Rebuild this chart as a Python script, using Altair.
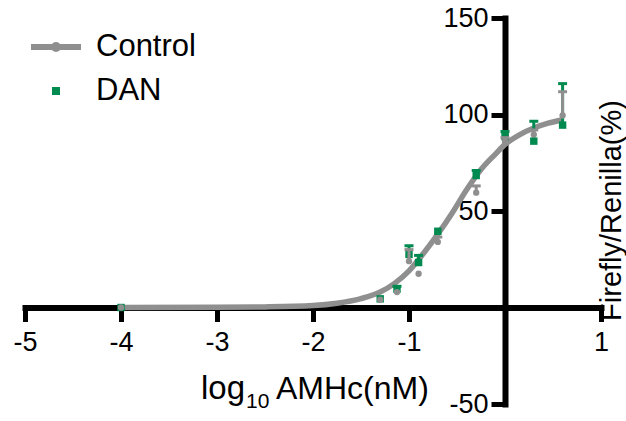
import altair as alt
import pandas as pd

# ---- data ----
x_log = [-4.0, -1.3, -1.125, -1.0, -0.9, -0.7, -0.3, 0.0, 0.3, 0.6]
control_mean = [0.0, 4.0, 8.0, 24.0, 17.5, 34.0, 59.5, 86.0, 89.6, 99.5]
control_top = [None, None, None, 30.0, None, 36.5, 63.0, 88.0, 92.0, 111.8]
dan_mean = [0.0, 4.5, 9.5, 27.5, 23.3, 39.5, 68.4, 88.6, 86.2, 94.5]
dan_top = [None, None, 11.0, 32.0, 27.0, None, 71.0, 91.2, 96.5, 116.0]

curve_x = [-4.0, -3.0, -2.5, -2.0, -1.75, -1.5, -1.3, -1.15, -1.0, -0.85, -0.7,
           -0.55, -0.4, -0.25, -0.1, 0.0, 0.15, 0.3, 0.45, 0.6]
curve_y = [0.0, 0.1, 0.3, 1.0, 2.2, 4.6, 8.0, 12.5, 19.0, 28.0, 38.0,
           49.0, 61.0, 71.5, 79.5, 84.5, 89.5, 93.0, 95.5, 97.3]

series_names = ["Control", "DAN"]
x_ticks = [-5, -4, -3, -2, -1, 0, 1]
y_ticks = [-50, 0, 50, 100, 150]

GRAY = "#8f8f8f"
GREEN = "#008a4f"
FONT = "Liberation Sans"

n = len(x_log)
pts = pd.DataFrame({
    "x": x_log + x_log,
    "mean": control_mean + dan_mean,
    "top": control_top + dan_top,
    "series": ["Control"] * n + ["DAN"] * n,
})
curve = pd.DataFrame({"x": curve_x, "y": curve_y})

xscale = alt.Scale(domain=[-5, 1], nice=False, zero=False)
yscale = alt.Scale(domain=[-50, 150], nice=False, zero=False)

LABEL_EXPR = "datum.value == 0 ? '' : replace(datum.label, '\u2212', '-')"

xaxis = alt.Axis(
    values=x_ticks, offset=-96.5, grid=False,
    domainColor="black", domainWidth=6, domainCap="square",
    tickColor="black", tickWidth=5, tickSize=14,
    labelFont=FONT, labelFontSize=27, labelColor="black", labelPadding=8,
    labelAngle=0, labelFlush=False, labelOverlap=False,
    labelExpr=LABEL_EXPR,
    title=None,
)
yaxis = alt.Axis(
    values=y_ticks, offset=-480, grid=False,
    domainColor="black", domainWidth=6, domainCap="square",
    tickColor="black", tickWidth=5, tickSize=14,
    labelFont=FONT, labelFontSize=27, labelColor="black", labelPadding=3,
    labelFlush=False, labelOverlap=False,
    labelExpr=LABEL_EXPR,
    title="Firefly/Renilla(%)", titleFont=FONT, titleFontSize=29,
    titleFontWeight="normal", titleColor="black",
    titleAngle=270, titleX=106, titleY=192,
    titleAlign="center", titleBaseline="middle",
)

X = alt.X("x:Q", scale=xscale, axis=xaxis)


def Y(field):
    return alt.Y(field, scale=yscale, axis=yaxis)


curve_layer = alt.Chart(curve).mark_line(
    color=GRAY, strokeWidth=5.5, interpolate="monotone"
).encode(x=X, y=Y("y:Q"))

layers = [curve_layer]
for name, color in [("DAN", GREEN), ("Control", GRAY)]:
    base = alt.Chart(pts).transform_filter(alt.datum.series == name)
    err = base.transform_filter("isValid(datum.top)")
    layers.append(err.mark_rule(color=color, strokeWidth=3).encode(
        x=X, y=Y("mean:Q"), y2="top:Q"))
    layers.append(err.mark_tick(color=color, orient="horizontal", size=9,
                                thickness=3, opacity=1).encode(x=X, y=Y("top:Q")))
    if name == "DAN":
        layers.append(base.mark_square(color=GREEN, size=55, opacity=1).encode(
            x=X, y=Y("mean:Q")))
    else:
        layers.append(base.mark_circle(color=GRAY, size=40, opacity=1).encode(
            x=X, y=Y("mean:Q")))

# x-axis title with a real subscript (log_10 AMHc(nM))
title_parts = [
    ("log", 176, 381, 33),
    ("10", 221, 390, 21),
    ("AMHc(nM)", 251, 381, 32),
]
for txt, px, py, fs in title_parts:
    layers.append(
        alt.Chart(pd.DataFrame({"t": [txt]})).mark_text(
            font=FONT, fontSize=fs, color="black", align="left",
            baseline="alphabetic"
        ).encode(x=alt.value(px), y=alt.value(py), text="t:N")
    )

LINE_PATH = "M-1.25,0H1.25M-0.1,0A0.1,0.1 0 1,1 0.1,0A0.1,0.1 0 1,1 -0.1,0"
SQUARE_PATH = "M-0.05,-0.05H0.05V0.05H-0.05Z"

leg = alt.Legend(title=None, orient="none", legendX=8, legendY=6,
                 labelFont=FONT, labelFontSize=31, labelColor="black",
                 labelOffset=17, rowPadding=6, symbolStrokeWidth=6,
                 symbolSize=1600, padding=0, symbolOpacity=1)

legend_layer = alt.Chart(pd.DataFrame({"series": series_names})).transform_filter(
    "false"
).mark_point(filled=False, size=1600).encode(
    color=alt.Color("series:N", scale=alt.Scale(domain=series_names, range=[GRAY, GREEN]), legend=leg),
    shape=alt.Shape("series:N", scale=alt.Scale(domain=series_names, range=[LINE_PATH, SQUARE_PATH]), legend=leg),
)
layers.append(legend_layer)

chart = alt.layer(*layers).properties(
    width=576, height=386,
    padding={"left": 25, "top": 18, "right": 25, "bottom": 17},
    autosize=alt.AutoSizeParams(type="none"),
    background="white",
).configure_view(stroke=None)

chart.save("out.html", embed_options={"renderer": "svg", "actions": False})
